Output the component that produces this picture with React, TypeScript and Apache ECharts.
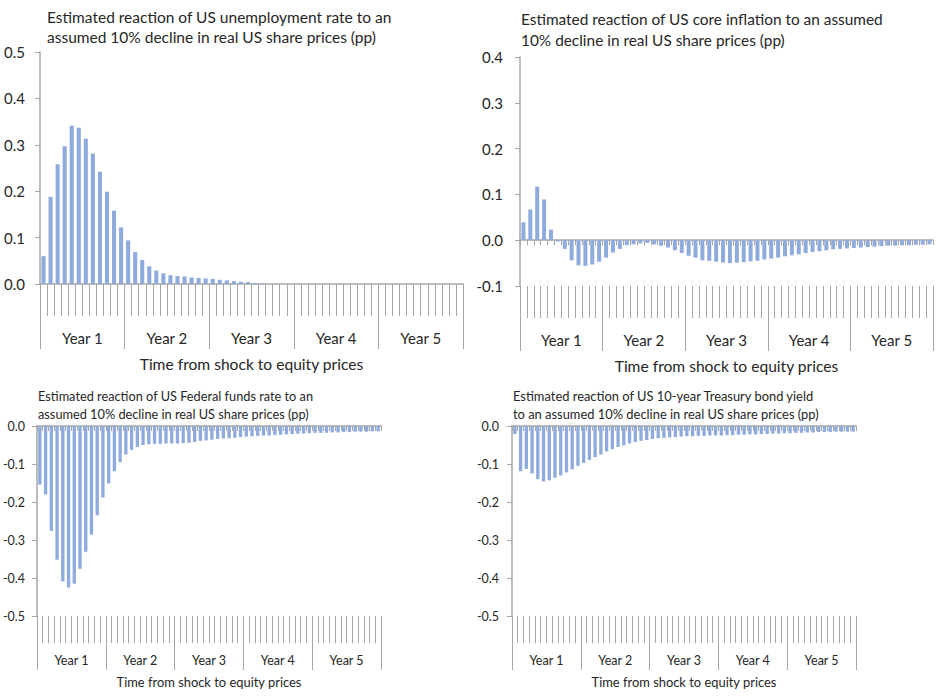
import React, { useEffect, useRef } from "react";
import * as echarts from "echarts";

const years = ["Year 1", "Year 2", "Year 3", "Year 4", "Year 5"];
const monthCategories = Array.from({ length: 60 }, (_, i) => String(i + 1));
const axisName = "Time from shock to equity prices";

const titles = [
  "Estimated reaction of US unemployment rate to an\nassumed 10% decline in real US share prices (pp)",
  "Estimated reaction of US core inflation to an assumed\n10% decline in real US share prices (pp)",
  "Estimated reaction of US Federal funds rate to an\nassumed 10% decline in real US share prices (pp)",
  "Estimated reaction of US 10-year Treasury bond yield\nto an assumed 10% decline in real US share prices (pp)",
];

const unemployment = [
  0.060, 0.188, 0.258, 0.297, 0.341, 0.337, 0.313, 0.281, 0.242, 0.199,
  0.158, 0.122, 0.094, 0.069, 0.052, 0.038, 0.029, 0.023, 0.019, 0.017,
  0.016, 0.014, 0.013, 0.012, 0.011, 0.009, 0.008, 0.006, 0.005, 0.004,
  0.002, 0.001, 0, 0, 0, 0, 0, 0, 0, 0,
  0, 0, 0, 0, 0, 0, 0, 0, 0, 0,
  0, 0, 0, 0, 0, 0, 0, 0, 0, 0,
];

const coreInflation = [
  0.039, 0.067, 0.117, 0.089, 0.023, -0.003, -0.019, -0.044, -0.055, -0.056,
  -0.053, -0.047, -0.038, -0.027, -0.019, -0.011, -0.009, -0.007, -0.006, -0.009,
  -0.012, -0.016, -0.022, -0.028, -0.034, -0.038, -0.044, -0.045, -0.047, -0.049,
  -0.050, -0.049, -0.048, -0.046, -0.045, -0.042, -0.040, -0.038, -0.035, -0.033,
  -0.031, -0.028, -0.026, -0.024, -0.022, -0.020, -0.019, -0.018, -0.017, -0.016,
  -0.015, -0.014, -0.013, -0.012, -0.012, -0.011, -0.011, -0.010, -0.010, -0.009,
];

const fedFunds = [
  -0.154, -0.180, -0.276, -0.352, -0.409, -0.425, -0.415, -0.376, -0.331, -0.286,
  -0.235, -0.188, -0.151, -0.119, -0.095, -0.075, -0.063, -0.055, -0.050, -0.048,
  -0.047, -0.047, -0.046, -0.046, -0.046, -0.045, -0.044, -0.042, -0.039, -0.038,
  -0.036, -0.034, -0.033, -0.032, -0.031, -0.029, -0.028, -0.027, -0.026, -0.025,
  -0.025, -0.024, -0.023, -0.022, -0.021, -0.020, -0.020, -0.019, -0.018, -0.018,
  -0.018, -0.017, -0.017, -0.016, -0.016, -0.015, -0.015, -0.015, -0.014, -0.014,
];

const tenYearYield = [
  -0.021, -0.119, -0.113, -0.125, -0.140, -0.146, -0.143, -0.136, -0.130, -0.122,
  -0.114, -0.105, -0.097, -0.089, -0.082, -0.075, -0.067, -0.061, -0.055, -0.051,
  -0.046, -0.042, -0.039, -0.037, -0.034, -0.032, -0.031, -0.030, -0.029, -0.028,
  -0.027, -0.027, -0.026, -0.026, -0.025, -0.025, -0.025, -0.024, -0.024, -0.023,
  -0.023, -0.022, -0.022, -0.021, -0.021, -0.020, -0.020, -0.019, -0.019, -0.018,
  -0.018, -0.017, -0.017, -0.016, -0.016, -0.016, -0.015, -0.015, -0.015, -0.015,
];

const FONT = 'Lato, "Noto Sans", sans-serif';
const TEXT = "#262626";
const AXIS = "#A6A6A6";
const BAR = "#8FAADC";

const panels = [
  {
    values: unemployment, yMin: 0, yMax: 0.5, zeroAtBottom: true,
    grid: { left: 40, top: 52, width: 423, height: 232 },
    title: { left: 47, top: 7, size: 15.5, lh: 20 },
    font: 15, nameFont: 15.6, yMargin: 15, monthLen: 32, yearLen: 33, yearMargin: 14, nameGap: 40,
  },
  {
    values: coreInflation, yMin: -0.1, yMax: 0.4, zeroAtBottom: false,
    grid: { left: 520, top: 57, width: 413, height: 229 },
    title: { left: 521, top: 9, size: 15.4, lh: 20.5 },
    font: 15, nameFont: 15.6, yMargin: 17, monthLen: 32, yearLen: 33, yearMargin: 14.5, nameGap: 39.5,
  },
  {
    values: fedFunds, yMin: -0.5, yMax: 0, zeroAtBottom: false,
    grid: { left: 37, top: 426, width: 344, height: 190 },
    title: { left: 38, top: 387, size: 12.75, lh: 18 },
    font: 12.5, nameFont: 12.9, yMargin: 12, monthLen: 27, yearLen: 27, yearMargin: 11, nameGap: 32.5,
  },
  {
    values: tenYearYield, yMin: -0.5, yMax: 0, zeroAtBottom: false,
    grid: { left: 512, top: 426, width: 344, height: 190 },
    title: { left: 513, top: 387, size: 12.9, lh: 18 },
    font: 12.5, nameFont: 12.9, yMargin: 13, monthLen: 27, yearLen: 27, yearMargin: 11, nameGap: 32.5,
  },
];

function buildOption() {
  const grid: any[] = [];
  const xAxis: any[] = [];
  const yAxis: any[] = [];
  const series: any[] = [];
  const title: any[] = [];

  panels.forEach((p, i) => {
    grid.push({ ...p.grid, containLabel: false, outerBoundsMode: "none" });
    title.push({
      text: titles[i],
      left: p.title.left,
      top: p.title.top,
      padding: 0,
      textStyle: {
        fontFamily: FONT,
        fontSize: p.title.size,
        fontWeight: "normal",
        color: TEXT,
        lineHeight: p.title.lh,
      },
    });
    yAxis.push({
      gridIndex: i,
      type: "value",
      min: p.yMin,
      max: p.yMax,
      interval: 0.1,
      axisLine: { show: true, lineStyle: { color: AXIS, width: 1.5 } },
      axisTick: { show: true, length: 5, lineStyle: { color: AXIS, width: 1 } },
      splitLine: { show: false },
      axisLabel: {
        fontFamily: FONT,
        fontSize: p.font,
        color: TEXT,
        margin: p.yMargin,
        formatter: (v: number) => (Math.abs(v) < 1e-9 ? "0.0" : v.toFixed(1)),
      },
    });
    const mainIndex = xAxis.length;
    xAxis.push({
      gridIndex: i,
      type: "category",
      data: monthCategories,
      position: "bottom",
      axisLine: { show: true, onZero: true, lineStyle: { color: AXIS, width: 1.5 } },
      axisTick: {
        show: true,
        interval: 0,
        length: p.zeroAtBottom ? p.monthLen : 5,
        lineStyle: { color: AXIS, width: 1 },
      },
      axisLabel: { show: false },
      splitLine: { show: false },
    });
    if (!p.zeroAtBottom) {
      xAxis.push({
        gridIndex: i,
        type: "category",
        data: monthCategories,
        position: "bottom",
        axisLine: { show: false, onZero: false },
        axisTick: { show: true, interval: 0, length: p.monthLen, lineStyle: { color: AXIS, width: 1 } },
        axisLabel: { show: false },
        splitLine: { show: false },
      });
    }
    xAxis.push({
      gridIndex: i,
      type: "category",
      data: years,
      position: "bottom",
      offset: p.monthLen,
      axisLine: { show: false, onZero: false },
      axisTick: { show: true, interval: 0, length: p.yearLen, lineStyle: { color: AXIS, width: 1 } },
      axisLabel: {
        show: true,
        interval: 0,
        margin: p.yearMargin,
        fontFamily: FONT,
        fontSize: p.font,
        color: TEXT,
      },
      splitLine: { show: false },
      name: axisName,
      nameLocation: "middle",
      nameGap: p.nameGap,
      nameTextStyle: { fontFamily: FONT, fontSize: p.nameFont, color: TEXT },
    });
    series.push({
      type: "bar",
      xAxisIndex: mainIndex,
      yAxisIndex: i,
      data: p.values,
      barCategoryGap: "42%",
      itemStyle: { color: BAR },
      silent: true,
    });
  });

  return {
    animation: false,
    backgroundColor: "#ffffff",
    title,
    grid,
    xAxis,
    yAxis,
    series,
  };
}

export default function App() {
  const ref = useRef<HTMLDivElement>(null);
  useEffect(() => {
    if (!ref.current) return;
    const chart = echarts.init(ref.current, undefined, { renderer: "svg" });
    chart.setOption(buildOption() as any);
    return () => chart.dispose();
  }, []);
  return (
    <div
      ref={ref}
      style={{ position: "fixed", left: 0, top: 0, width: 941, height: 696 }}
    />
  );
}
